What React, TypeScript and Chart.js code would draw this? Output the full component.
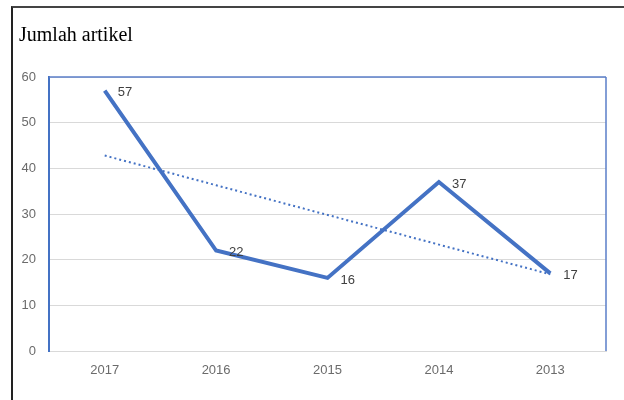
import React, { useEffect, useRef } from "react";
import { Chart, registerables } from "chart.js";

Chart.register(...registerables);

const years = ["2017", "2016", "2015", "2014", "2013"];
const articles = [57, 22, 16, 37, 17];
const trend = [42.8, 36.3, 29.8, 23.3, 16.8];
const yTicks = [0, 10, 20, 30, 40, 50, 60];

const BLUE = "#4472C4";

const framePlugin = {
  id: "frame",
  afterDraw(chart: any) {
    const { ctx, chartArea } = chart;
    const { left, right, top, bottom } = chartArea;
    ctx.save();
    ctx.strokeStyle = "#5b7fc9";
    ctx.lineWidth = 1.5;
    ctx.beginPath();
    ctx.moveTo(left, top);
    ctx.lineTo(right, top);
    ctx.moveTo(right, top);
    ctx.lineTo(right, bottom);
    ctx.stroke();
    ctx.restore();
  },
};

const labelPlugin = {
  id: "pointLabels",
  afterDatasetsDraw(chart: any) {
    const { ctx } = chart;
    const meta = chart.getDatasetMeta(0);
    ctx.save();
    ctx.fillStyle = "#404040";
    ctx.font = "13px 'Liberation Sans', sans-serif";
    ctx.textAlign = "left";
    ctx.textBaseline = "middle";
    meta.data.forEach((pt: any, i: number) => {
      ctx.fillText(String(articles[i]), pt.x + 13, pt.y + 2);
    });
    ctx.restore();
  },
};

export default function App() {
  const ref = useRef<HTMLCanvasElement>(null);
  useEffect(() => {
    document.body.style.overflow = "hidden";
    const chart = new Chart(ref.current!, {
      type: "line",
      data: {
        labels: years,
        datasets: [
          {
            data: articles,
            borderColor: BLUE,
            borderWidth: 4,
            pointRadius: 0,
            tension: 0,
            order: 1,
          },
          {
            data: trend,
            borderColor: BLUE,
            borderWidth: 2,
            borderDash: [2, 3],
            pointRadius: 0,
            tension: 0,
            order: 2,
          },
        ],
      },
      options: {
        responsive: false,
        animation: false,
        layout: { padding: { top: 77, right: 18, left: 0, bottom: 0 } },
        plugins: { legend: { display: false }, tooltip: { enabled: false }, title: { display: false } },
        scales: {
          x: {
            offset: true,
            grid: { display: false, drawTicks: false },
            border: { display: true, color: "#d9d9d9", width: 1 },
            ticks: {
              color: "#6b6b6b",
              font: { size: 13, family: "'Liberation Sans', sans-serif" },
              padding: 12,
            },
            afterFit: (s: any) => {
              s.height = 49;
            },
          },
          y: {
            min: 0,
            max: 60,
            afterBuildTicks: (s: any) => {
              s.ticks = yTicks.map((v) => ({ value: v }));
            },
            grid: { color: "#d9d9d9", lineWidth: 1, drawTicks: false },
            border: { display: true, color: BLUE, width: 2 },
            ticks: {
              color: "#6b6b6b",
              font: { size: 13, family: "'Liberation Sans', sans-serif" },
              padding: 13,
            },
            afterFit: (s: any) => {
              s.width = 49;
            },
          },
        },
      },
      plugins: [framePlugin, labelPlugin],
    });
    return () => chart.destroy();
  }, []);

  return (
    <div style={{ position: "fixed", left: 0, top: 0, width: 624, height: 400, background: "#fff" }}>
      <div
        style={{
          position: "absolute",
          left: 11,
          top: 6,
          width: 613,
          height: 394,
          borderLeft: "2px solid #222",
          borderTop: "2px solid #444",
          boxSizing: "border-box",
        }}
      />
      <canvas ref={ref} width={624} height={400} style={{ position: "absolute", left: 0, top: 0 }} />
      <div
        style={{
          position: "absolute",
          left: 19,
          top: 22,
          fontFamily: "'Liberation Serif', 'Times New Roman', serif",
          fontSize: 20,
          color: "#000",
          lineHeight: "24px",
        }}
      >
        Jumlah artikel
      </div>
    </div>
  );
}
